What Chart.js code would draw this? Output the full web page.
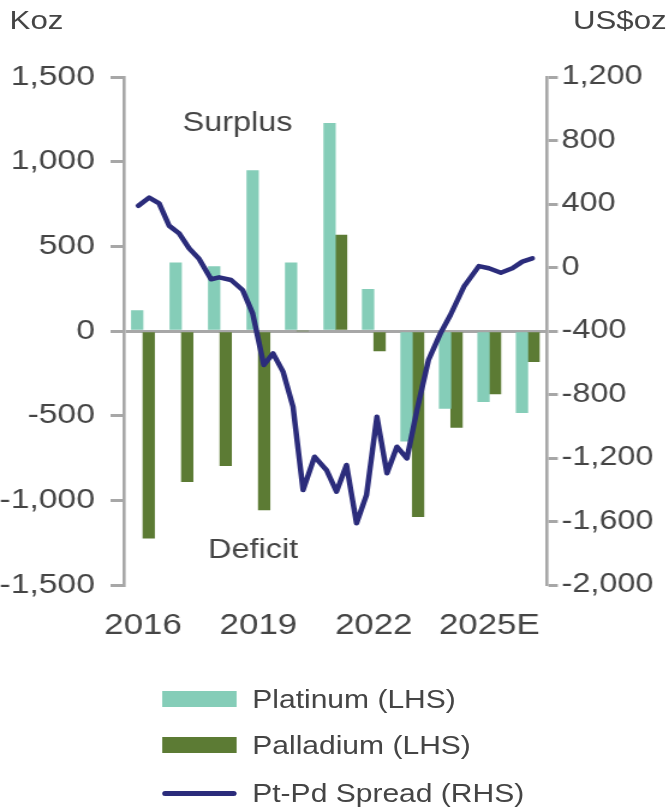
<!DOCTYPE html>
<html>
<head>
<meta charset="utf-8">
<script src="https://cdn.jsdelivr.net/npm/chart.js@4.4.1/dist/chart.umd.min.js"></script>
<style>
  html, body { margin: 0; padding: 0; background: #fff; overflow: hidden; }
  /* the chart is drawn a bit narrow and widened to the page width */
  #wrap { position: relative; width: 557px; height: 809px; transform: scaleX(1.2011); transform-origin: 0 0;
          font-family: "Liberation Sans", Arial, sans-serif; color: #454545; }
  #chart { position: absolute; left: 0; top: 0; }
  .unit { position: absolute; top: 7px; font-size: 26px; line-height: 26px; white-space: nowrap; }
  .swatch { position: absolute; }
  .label { position: absolute; font-size: 25px; line-height: 25px; white-space: nowrap; }
</style>
</head>
<body>
<div id="wrap">
  <canvas id="chart" width="557" height="809"></canvas>
  <div class="unit" style="left:8px">Koz</div>
  <div class="unit" style="left:477px">US$oz</div>
  <div id="legend"></div>
</div>
<script>
'use strict'
//////////////////
// Data
//////////////////
const years = ['2016', '2017', '2018', '2019', '2020', '2021', '2022', '2023', '2024', '2025E', '2026E'];
const platinum = [120, 403, 380, 947, 403, 1227, 246, -650, -457, -418, -482];
const palladium = [-1223, -890, -795, -1057, 0, 567, -118, -1097, -569, -372, -181];

// Pt-Pd spread, roughly quarterly (fractional year, US$/oz)
const spreadTime = [2015.88, 2016.16, 2016.42, 2016.68, 2016.94, 2017.20, 2017.46, 2017.77, 2017.98, 2018.29,
  2018.59, 2018.85, 2019.14, 2019.38, 2019.64, 2019.90, 2020.16, 2020.46, 2020.77, 2021.03,
  2021.29, 2021.55, 2021.81, 2022.08, 2022.34, 2022.60, 2022.86, 2023.12, 2023.42, 2023.73,
  2023.99, 2024.34, 2024.73, 2024.99, 2025.30, 2025.60, 2025.86, 2026.12];
const spread = [389, 440, 404, 263, 215, 121, 54, -74, -62, -79,
  -142, -289, -614, -541, -656, -877, -1402, -1192, -1276, -1412,
  -1244, -1611, -1433, -940, -1296, -1129, -1202, -898, -583, -415,
  -299, -121, 9, -5, -33, -5, 37, 58];

const leftTicks = { min: -1500, max: 1500, step: 500 };
const rightTicks = { min: -2000, max: 1200, step: 400 };
const shownYears = ['2016', '2019', '2022', '2025E'];

//////////////////
// Styles
//////////////////
const gray = '#a7a7a7';
const textColor = '#454545';
const fontFamily = '"Liberation Sans", Arial, sans-serif';
const colors = { platinum: '#85cdb8', palladium: '#5c7b34', spread: '#2b2c7b' };

// Surplus / Deficit notes, placed on the time axis and the left axis
const notesPlugin = {
  id: 'notes',
  afterDatasetsDraw(chart) {
    const ctx = chart.ctx;
    const xs = chart.scales.x2;
    const ys = chart.scales.y;
    ctx.save();
    ctx.font = '27px ' + fontFamily;
    ctx.fillStyle = textColor;
    ctx.textAlign = 'center';
    ctx.textBaseline = 'alphabetic';
    ctx.fillText('Surplus', xs.getPixelForValue(2018.46), ys.getPixelForValue(1180));
    ctx.fillText('Deficit', xs.getPixelForValue(2018.86), ys.getPixelForValue(-1340));
    ctx.restore();
  }
};

function formatTick(value) {
  return value.toLocaleString('en-US');
}

const data = {
  labels: years,
  datasets: [
    {
      type: 'line',
      label: 'Pt-Pd Spread (RHS)',
      data: spreadTime.map((t, i) => ({ x: t, y: spread[i] })),
      xAxisID: 'x2',
      yAxisID: 'y2',
      borderColor: colors.spread,
      backgroundColor: colors.spread,
      borderWidth: 4.5,
      pointRadius: 0,
      tension: 0,
      borderJoinStyle: 'round',
      borderCapStyle: 'round',
      order: 0
    },
    {
      type: 'bar',
      label: 'Platinum (LHS)',
      data: platinum,
      xAxisID: 'x',
      yAxisID: 'y',
      backgroundColor: colors.platinum,
      barThickness: 9.6,
      order: 1
    },
    {
      type: 'bar',
      label: 'Palladium (LHS)',
      data: palladium,
      xAxisID: 'x',
      yAxisID: 'y',
      backgroundColor: colors.palladium,
      barThickness: 9.6,
      order: 1
    }
  ]
};

const config = {
  type: 'bar',
  data: data,
  options: {
    responsive: false,
    animation: false,
    layout: { padding: { top: 77, bottom: 164, left: 0, right: 0 } },
    plugins: { legend: { display: false }, tooltip: { enabled: false } },
    scales: {
      x: {
        type: 'category',
        offset: true,
        grid: { display: false, drawTicks: false },
        border: { display: false },
        ticks: {
          autoSkip: false,
          maxRotation: 0,
          padding: 24,
          color: textColor,
          font: { family: fontFamily, size: 29 },
          callback(value) {
            const label = this.getLabelForValue(value);
            return shownYears.includes(label) ? label : '';
          }
        },
        afterFit(scale) { scale.height = 60; }
      },
      // hidden time axis for the spread line; year centres line up with the bar groups
      x2: { type: 'linear', display: false, offset: false, min: 2015.5, max: 2026.5 },
      y: {
        position: 'left',
        min: leftTicks.min,
        max: leftTicks.max,
        ticks: { stepSize: leftTicks.step, padding: 13, color: textColor, font: { family: fontFamily, size: 28 }, callback: formatTick },
        grid: {
          color: ctx => (ctx.tick && ctx.tick.value === 0 ? gray : 'rgba(0,0,0,0)'),
          lineWidth: 3,
          tickColor: gray,
          tickWidth: 3,
          tickLength: 11
        },
        border: { color: gray, width: 2.6 },
        afterFit(scale) { scale.width = 103; }
      },
      y2: {
        position: 'right',
        min: rightTicks.min,
        max: rightTicks.max,
        ticks: { stepSize: rightTicks.step, padding: 3, color: textColor, font: { family: fontFamily, size: 27 }, callback: formatTick },
        grid: { drawOnChartArea: false, tickColor: gray, tickWidth: 3, tickLength: 9 },
        border: { color: gray, width: 2.6 },
        afterFit(scale) { scale.width = 101.6; }
      }
    }
  },
  plugins: [notesPlugin]
};

const chart = new Chart(document.getElementById('chart'), config);

// Legend below the chart: bars first, then the line
function renderLegend() {
  const legend = document.getElementById('legend');
  const order = [1, 2, 0];
  const rowCenters = [699, 745, 793];
  order.forEach((dsIndex, row) => {
    const ds = chart.data.datasets[dsIndex];
    const cy = rowCenters[row];
    const sw = document.createElement('div');
    sw.className = 'swatch';
    const isLine = ds.type === 'line';
    const h = isLine ? 5 : 16;
    sw.style.left = '135px';
    sw.style.width = '62px';
    sw.style.height = h + 'px';
    sw.style.top = (cy - h / 2) + 'px';
    sw.style.background = isLine ? ds.borderColor : ds.backgroundColor;
    if (isLine) sw.style.borderRadius = '3px';
    legend.appendChild(sw);

    const lab = document.createElement('div');
    lab.className = 'label';
    lab.textContent = ds.label;
    lab.style.left = '210px';
    lab.style.top = (cy - 12.3) + 'px';
    legend.appendChild(lab);
  });
}

renderLegend();
</script>
</body>
</html>
